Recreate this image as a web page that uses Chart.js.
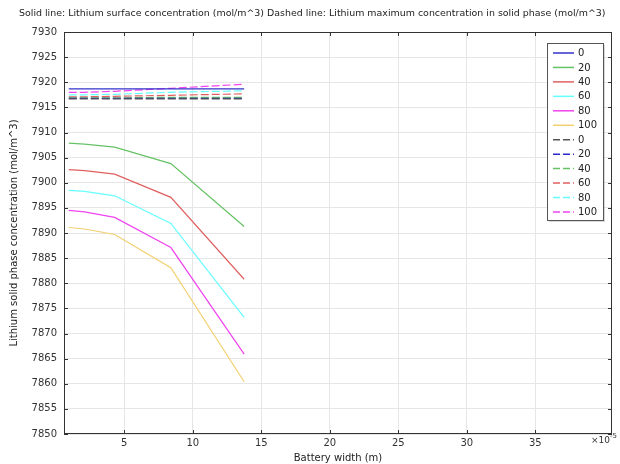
<!DOCTYPE html>
<html>
<head>
<meta charset="utf-8">
<script src="https://cdn.jsdelivr.net/npm/chart.js@4.4.0/dist/chart.umd.min.js"></script>
<style>
  html, body { margin: 0; padding: 0; background: #fff; }
  #wrap { width: 620px; height: 464px; position: relative; }
</style>
</head>
<body>
<div id="wrap"><canvas id="chart"></canvas></div>
<script>
// Battery width positions (x 1e-5 m)
const xValues = [0.95, 2.1, 4.3, 8.4, 13.75];
const seriesLabels = ['0', '20', '40', '60', '80', '100'];

// Solid: lithium surface concentration
const surface0 = [7918.7, 7918.7, 7918.7, 7918.7, 7918.7];
const surface20 = [7907.9, 7907.7, 7907.1, 7903.8, 7891.3];
const surface40 = [7902.6, 7902.4, 7901.7, 7897.1, 7880.8];
const surface60 = [7898.5, 7898.3, 7897.4, 7891.9, 7873.2];
const surface80 = [7894.5, 7894.2, 7893.1, 7887.1, 7865.9];
const surface100 = [7891.1, 7890.8, 7889.7, 7883.1, 7860.4];

// Dashed: lithium max concentration in solid phase
const max0 = [7916.7, 7916.7, 7916.7, 7916.7, 7916.7];
const max20 = [7916.8, 7916.8, 7916.8, 7916.8, 7916.8];
const max40 = [7916.9, 7916.9, 7916.9, 7917.0, 7917.0];
const max60 = [7917.1, 7917.1, 7917.2, 7917.4, 7917.7];
const max80 = [7917.5, 7917.5, 7917.6, 7918.0, 7918.3];
const max100 = [7918.0, 7918.0, 7918.2, 7918.8, 7919.6];

const yTicks = [7850, 7855, 7860, 7865, 7870, 7875, 7880, 7885, 7890, 7895, 7900, 7905, 7910, 7915, 7920, 7925, 7930];
const xTicks = [5, 10, 15, 20, 25, 30, 35];

const solidColors = ['#3333cc', '#66c266', '#e06060', '#66ffff', '#f044f0', '#f2d070'];
const dashColors = ['#555555', '#2a2acc', '#66c266', '#e06060', '#66ffff', '#f044f0'];

const solidSeries = [surface0, surface20, surface40, surface60, surface80, surface100];
const dashSeries = [max0, max20, max40, max60, max80, max100];

function toPoints(ys) {
  return ys.map((y, i) => ({ x: xValues[i], y }));
}

const datasets = [];
solidSeries.forEach((s, i) => datasets.push({
  label: seriesLabels[i], data: toPoints(s), borderColor: solidColors[i],
  borderWidth: 1.2, pointRadius: 0, tension: 0, fill: false
}));
dashSeries.forEach((s, i) => datasets.push({
  label: seriesLabels[i], data: toPoints(s), borderColor: dashColors[i],
  borderWidth: 1.2, borderDash: [8, 3], pointRadius: 0, tension: 0, fill: false
}));

const FONT = 'DejaVu Sans, sans-serif';
const TITLE = 'Solid line: Lithium surface concentration (mol/m^3) Dashed line: Lithium maximum concentration in solid phase (mol/m^3)';

// title, inner ticks, exponent label and legend box
const decor = {
  id: 'decor',
  afterDraw(chart) {
    const ctx = chart.ctx;
    const area = chart.chartArea;
    const x = chart.scales.x, y = chart.scales.y;
    ctx.save();

    // fit title to the width it has in the original (19..606)
    ctx.font = '10px ' + FONT;
    const w = ctx.measureText(TITLE).width;
    const size = Math.min(10, 10 * 587 / w);
    ctx.fillStyle = '#222';
    ctx.font = size.toFixed(2) + 'px ' + FONT;
    ctx.textAlign = 'left';
    ctx.textBaseline = 'middle';
    ctx.fillText(TITLE, 19, 14);

    // frame + inner ticks
    ctx.strokeStyle = '#333';
    ctx.lineWidth = 1;
    ctx.strokeRect(area.left + 0.5, area.top + 0.5, area.right - area.left - 1, area.bottom - area.top - 1);
    ctx.beginPath();
    yTicks.forEach(v => {
      const py = Math.round(y.getPixelForValue(v)) + 0.5;
      ctx.moveTo(area.left, py); ctx.lineTo(area.left + 4, py);
      ctx.moveTo(area.right, py); ctx.lineTo(area.right - 4, py);
    });
    xTicks.forEach(v => {
      const px = Math.round(x.getPixelForValue(v)) + 0.5;
      ctx.moveTo(px, area.bottom); ctx.lineTo(px, area.bottom - 4);
      ctx.moveTo(px, area.top); ctx.lineTo(px, area.top + 4);
    });
    ctx.stroke();

    // exponent label
    ctx.fillStyle = '#333';
    ctx.font = '9px ' + FONT;
    ctx.textAlign = 'left';
    ctx.fillText('\u00d710', 591, 441);
    ctx.font = '7px ' + FONT;
    ctx.fillText('-5', 610, 436);

    // legend
    const lx = 547, ly = 43, lw = 56, lh = 177;
    ctx.fillStyle = 'rgba(0,0,0,0.15)';
    ctx.fillRect(lx + 2, ly + 2, lw, lh);
    ctx.fillStyle = '#fff';
    ctx.fillRect(lx, ly, lw, lh);
    ctx.strokeStyle = '#555';
    ctx.lineWidth = 1;
    ctx.strokeRect(lx + 0.5, ly + 0.5, lw, lh);
    ctx.font = '10px ' + FONT;
    ctx.textBaseline = 'middle';
    chart.data.datasets.forEach((ds, i) => {
      const ry = ly + 10 + i * 14.45;
      ctx.strokeStyle = ds.borderColor;
      ctx.lineWidth = 1.5;
      ctx.setLineDash(ds.borderDash ? [7, 3] : []);
      ctx.beginPath();
      ctx.moveTo(lx + 6, ry); ctx.lineTo(lx + 27, ry);
      ctx.stroke();
      ctx.setLineDash([]);
      ctx.fillStyle = '#222';
      ctx.fillText(ds.label, lx + 31, ry + 0.5);
    });
    ctx.restore();
  }
};

new Chart(document.getElementById('chart'), {
  type: 'line',
  data: { datasets },
  options: {
    responsive: true,
    maintainAspectRatio: false,
    animation: false,
    layout: { padding: { top: 32, right: 8, left: 0, bottom: 0 } },
    plugins: { legend: { display: false }, title: { display: false }, tooltip: { enabled: false } },
    scales: {
      x: {
        type: 'linear',
        min: 0.6, max: 40.6,
        afterBuildTicks: s => { s.ticks = xTicks.map(v => ({ value: v })); },
        afterFit: s => { s.height = 30; },
        grid: { color: '#e6e6e6', drawTicks: false },
        border: { display: false },
        ticks: { color: '#333', font: { family: FONT, size: 10 }, padding: 3, maxRotation: 0 },
        title: { display: true, text: 'Battery width (m)', color: '#222', font: { family: FONT, size: 10 }, padding: { top: 1, bottom: 0 } }
      },
      y: {
        min: 7850, max: 7930,
        afterBuildTicks: s => { s.ticks = yTicks.map(v => ({ value: v })); },
        afterFit: s => { s.width = 64; },
        grid: { color: '#e6e6e6', drawTicks: false },
        border: { display: false },
        ticks: { color: '#333', font: { family: FONT, size: 10 }, padding: 7, callback: v => String(v) },
        title: { display: true, text: 'Lithium solid phase concentration (mol/m^3)', color: '#222', font: { family: FONT, size: 10 }, padding: { top: 8, bottom: 0 } }
      }
    }
  },
  plugins: [decor]
});
</script>
</body>
</html>
